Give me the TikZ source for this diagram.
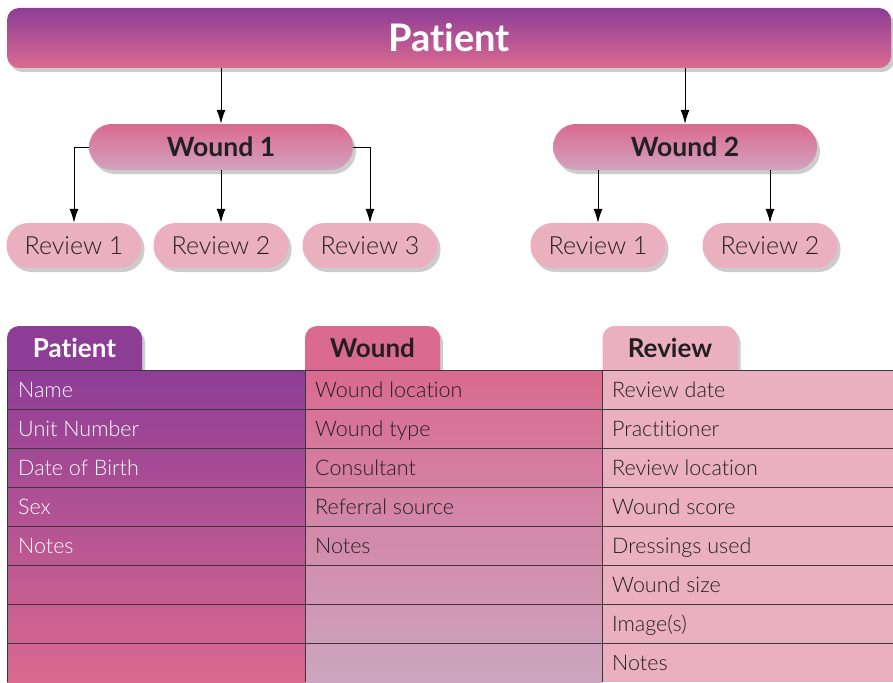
\documentclass[tikz,border=0pt]{standalone}
\usepackage{fontspec}
\setmainfont{Lato}[Ligatures={NoCommon,NoRare,NoContextual},Contextuals=NoAlternate]
\IfFontExistsTF{Lato Light}{\newfontfamily\lightfnt{Lato Light}[Ligatures={NoCommon,NoRare,NoContextual},Contextuals=NoAlternate]}{\newfontfamily\lightfnt{Lato}[Ligatures={NoCommon,NoRare,NoContextual},Contextuals=NoAlternate]}
\usetikzlibrary{arrows.meta,shadows}
\definecolor{cPurple}{RGB}{142,61,151}
\definecolor{cPinkA}{RGB}{218,106,143}
\definecolor{cLav}{RGB}{211,163,191}
\definecolor{cLav2}{RGB}{204,166,192}
\definecolor{cLight}{RGB}{234,176,192}
\definecolor{cText}{RGB}{35,31,32}
\definecolor{cGrid}{RGB}{60,55,58}
\begin{document}
\begin{tikzpicture}[x=1pt,y=-1pt,
  shad/.style={drop shadow={shadow xshift=3pt,shadow yshift=-4pt,opacity=0.2,fill=black}},
  box/.style={rectangle,inner sep=0pt,shad},
  banner/.style={box,rounded corners=12pt,minimum width=884pt,minimum height=60pt,
     top color=cPurple,bottom color=cPinkA,text=white,font=\bfseries\fontsize{38}{38}\selectfont},
  wound/.style={box,rounded corners=23pt,minimum width=264pt,minimum height=46pt,
     top color=cPinkA,bottom color=cLav,text=cText,font=\bfseries\fontsize{26.5}{26.5}\selectfont},
  review/.style={box,rounded corners=22pt,minimum width=135pt,minimum height=45pt,
     fill=cLight,text=cText,font=\lightfnt\fontsize{25}{25}\selectfont},
  arr/.style={draw=black,line width=1pt,-{Latex[length=14pt,width=9pt]}},
  tabbox/.style={box,rounded corners=12pt,minimum width=135pt,inner ysep=8pt,
     text height=23pt,text depth=17pt,anchor=base,font=\bfseries\fontsize{26}{26}\selectfont},
  cell/.style={anchor=base west,inner sep=0pt,font=\lightfnt\fontsize{21.5}{21.5}\selectfont},
  grid/.style={draw=cGrid,line width=1pt}
]
\useasboundingbox (0,0) rectangle (893,682);

% ---------- tree ----------
\node[banner] (patient) at (449,38) {Patient};
\node[wound] (wound1) at (221,147) {Wound 1};
\node[wound] (wound2) at (685,147) {Wound 2};
\node[review] (r11) at (74,245.5) {Review 1};
\node[review] (r12) at (221,245.5) {Review 2};
\node[review] (r13) at (370,245.5) {Review 3};
\node[review] (r21) at (598,245.5) {Review 1};
\node[review] (r22) at (770,245.5) {Review 2};

\draw[arr] (patient.south -| wound1.north) -- (wound1.north);
\draw[arr] (patient.south -| wound2.north) -- (wound2.north);
\draw[arr] (wound1.west) -| (r11.north);
\draw[arr] (wound1.south) -- (r12.north);
\draw[arr] (wound1.east) -| (r13.north);
\draw[arr] (wound2.south -| r21.north) -- (r21.north);
\draw[arr] (wound2.south -| r22.north) -- (r22.north);

% ---------- tabs ----------
\node[tabbox,fill=cPurple,text=white] (tabp) at (74.5,357) {Patient};
\node[tabbox,fill=cPinkA,text=cText] (tabw) at (372.5,357) {Wound};
\node[tabbox,fill=cLight,text=cText] (tabr) at (670,357) {Review};

% ---------- table ----------
\fill[top color=cPurple,bottom color=cPinkA] (7,370) rectangle (305,682);
\fill[top color=cPinkA,bottom color=cLav2] (305,370) rectangle (602,682);
\fill[cLight] (602,370) rectangle (893,682);
\foreach \k in {0,...,7} {
  \draw[grid] (7,370+39.1*\k) -- (893,370+39.1*\k);
}
\foreach \xx in {7,305,602} {
  \draw[grid] (\xx,370) -- (\xx,682);
}

\foreach \t [count=\i] in {Name,Unit Number,Date of Birth,Sex,Notes} {
  \node[cell,text=white] (pc\i) at (18,397+39.1*\i-39.1) {\t};
}
\foreach \t [count=\i] in {Wound location,Wound type,Consultant,Referral source,Notes} {
  \node[cell,text=cText] (wc\i) at (315,397+39.1*\i-39.1) {\t};
}
\foreach \t [count=\i] in {Review date,Practitioner,Review location,Wound score,Dressings used,Wound size,Image(s),Notes} {
  \node[cell,text=cText] (rc\i) at (612,397+39.1*\i-39.1) {\t};
}
\end{tikzpicture}
\end{document}
